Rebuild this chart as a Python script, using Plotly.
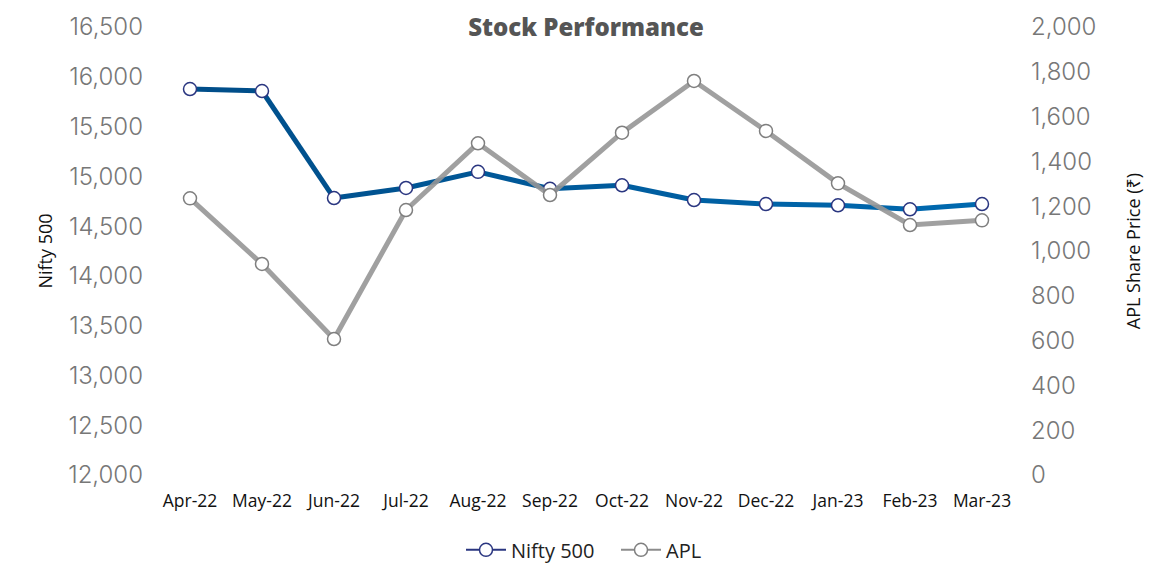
import plotly.graph_objects as go

months = ["Apr-22", "May-22", "Jun-22", "Jul-22", "Aug-22", "Sep-22",
          "Oct-22", "Nov-22", "Dec-22", "Jan-23", "Feb-23", "Mar-23"]
nifty500 = [15877, 15857, 14782, 14883, 15045, 14875, 14910, 14762, 14722, 14709, 14669, 14722]
apl = [1235, 942, 607, 1183, 1481, 1250, 1528, 1759, 1536, 1302, 1116, 1137]

left_ticks = list(range(12000, 16501, 500))
right_ticks = list(range(0, 2001, 200))

FONT = "Open Sans, Noto Sans, sans-serif"
TICKFONT = "Inter, Open Sans, sans-serif"

fig = go.Figure()

# Nifty 500 line drawn segment by segment for a dark-to-bright blue gradient
c0 = (0, 78, 138)
c1 = (0, 104, 174)
n = len(months)
for i in range(n - 1):
    t = i / (n - 2)
    col = "rgb(%d,%d,%d)" % tuple(round(a + (b - a) * t) for a, b in zip(c0, c1))
    fig.add_trace(go.Scatter(x=months[i:i + 2], y=nifty500[i:i + 2], mode="lines",
                             line=dict(color=col, width=5), showlegend=False,
                             hoverinfo="skip", yaxis="y"))
fig.add_trace(go.Scatter(x=months, y=nifty500, mode="markers", name="Nifty 500",
                         marker=dict(size=13, color="white", line=dict(color="#2a3680", width=1.5)),
                         showlegend=False, yaxis="y"))
fig.add_trace(go.Scatter(x=[None], y=[None], mode="lines+markers", name="Nifty 500",
                         line=dict(color="#2a3680", width=2),
                         marker=dict(size=13, color="white", line=dict(color="#2a3680", width=1.5)),
                         yaxis="y"))

fig.add_trace(go.Scatter(x=months, y=apl, mode="lines+markers", name="APL",
                         line=dict(color="rgba(150,150,150,0.9)", width=5),
                         marker=dict(size=13, color="white", line=dict(color="#7f7f7f", width=1.5)),
                         yaxis="y2", showlegend=False))
fig.add_trace(go.Scatter(x=[None], y=[None], mode="lines+markers", name="APL",
                         line=dict(color="#8c8c8c", width=2),
                         marker=dict(size=13, color="white", line=dict(color="#7f7f7f", width=1.5)),
                         yaxis="y2"))

tickfont = dict(family=TICKFONT, size=24, color="#777777", weight=300)

fig.update_layout(
    width=1172, height=563,
    margin=dict(l=154, r=154, t=27, b=88, autoexpand=False),
    paper_bgcolor="white", plot_bgcolor="white",
    title=dict(text="Stock Performance", x=0.5, xanchor="center", y=1 - 28 / 563, yanchor="middle",
               font=dict(family=FONT, size=24, color="#555555", weight=800)),
    xaxis=dict(type="category", categoryarray=months, range=[-0.5, 11.5], autorange=False,
               showgrid=False, showline=False,
               zeroline=False, ticks="", tickfont=dict(family=FONT, size=17.5, color="#111111"),
               ticklabelstandoff=13),
    yaxis=dict(range=[12000, 16500], tickvals=left_ticks, tickformat=",", showgrid=False,
               zeroline=False, showline=False, ticks="", tickfont=tickfont, ticklabelstandoff=10,
               title=dict(text="Nifty 500", font=dict(family=FONT, size=18, color="#111111"),
                          standoff=10)),
    yaxis2=dict(range=[0, 2000], tickvals=right_ticks, tickformat=",", overlaying="y", side="right",
                showgrid=False, zeroline=False, showline=False, ticks="", tickfont=tickfont,
                ticklabelstandoff=12,
                title=dict(text="APL Share Price (₹)", font=dict(family=FONT, size=18, color="#111111"),
                           standoff=32)),
    legend=dict(orientation="h", x=(461 - 154) / 864, xanchor="left", y=-0.167, yanchor="middle",
                font=dict(family=FONT, size=20, color="#222222"),
                itemwidth=40, entrywidth=100),
    showlegend=True,
)

fig.write_html("out.html", config={"displayModeBar": False},
               post_script="document.body.style.margin='0';document.body.style.overflow='hidden';")
